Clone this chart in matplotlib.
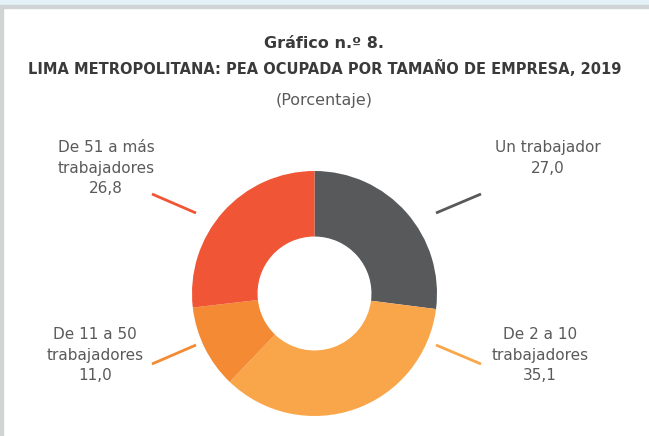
import matplotlib.pyplot as plt
from matplotlib.patches import Rectangle

# datos del gráfico
categorias = ['Un trabajador', 'De 2 a 10\ntrabajadores', 'De 11 a 50\ntrabajadores', 'De 51 a más\ntrabajadores']
valores = [27.0, 35.1, 11.0, 26.8]
colores = ['#58595b', '#f9a64b', '#f48a33', '#f05535']

plt.rcParams['font.family'] = ['DejaVu Sans']

W, H = 649, 436
fig = plt.figure(figsize=(6.49, 4.36), dpi=100)
ax = fig.add_axes([0, 0, 1, 1])

# fondo: franja celeste arriba y borde gris
fig.patches.append(Rectangle((0, 1 - 6 / H), 1, 6 / H, transform=fig.transFigure, color='#e4f2f8', zorder=0))
fig.patches.append(Rectangle((0, 1 - 8 / H), 1, 2.5 / H, transform=fig.transFigure, color='#d0d4d4', zorder=0))
fig.patches.append(Rectangle((0, 0), 3 / W, 1 - 6 / H, transform=fig.transFigure, color='#d0d4d4', zorder=0))

cx, cy, r = 314.5, H - 293.5, 122.5
ax.pie(valores, colors=colores, startangle=90, counterclock=False, center=(cx, cy), radius=r,
       wedgeprops=dict(width=r * 0.535, linewidth=0))
ax.set_xlim(0, W)
ax.set_ylim(0, H)
ax.set_aspect('equal')
ax.axis('off')

gris = '#5a5a5a'
fig.text(0.5, 1 - 43 / H, 'Gráfico n.º 8.', ha='center', va='center', fontsize=11.5, fontweight='bold', color='#3a3a3a')
fig.text(0.5, 1 - 68 / H, 'LIMA METROPOLITANA: PEA OCUPADA POR TAMAÑO DE EMPRESA, 2019', ha='center', va='center',
         fontsize=10.5, fontweight='bold', color='#3a3a3a')
fig.text(0.5, 1 - 101 / H, '(Porcentaje)', ha='center', va='center', fontsize=11.5, color=gris)

# etiquetas y líneas guía (posiciones de la maqueta)
pos_etiquetas = [(548, 158), (540, 355), (95, 355), (106, 168)]
lineas = [((436, 213), (481, 194)), ((436, 345), (481, 364)), ((196, 345), (152, 364)), ((196, 213), (152, 194))]
for cat, val, col, (tx, ty), (p0, p1) in zip(categorias, valores, colores, pos_etiquetas, lineas):
    txt = cat + '\n' + f'{val:.1f}'.replace('.', ',')
    ax.text(tx, H - ty, txt, ha='center', va='center', fontsize=11, color=gris, linespacing=1.45)
    ax.plot([p0[0], p1[0]], [H - p0[1], H - p1[1]], color=col, lw=2, solid_capstyle='butt')

fig.savefig('out.png', dpi=100)
